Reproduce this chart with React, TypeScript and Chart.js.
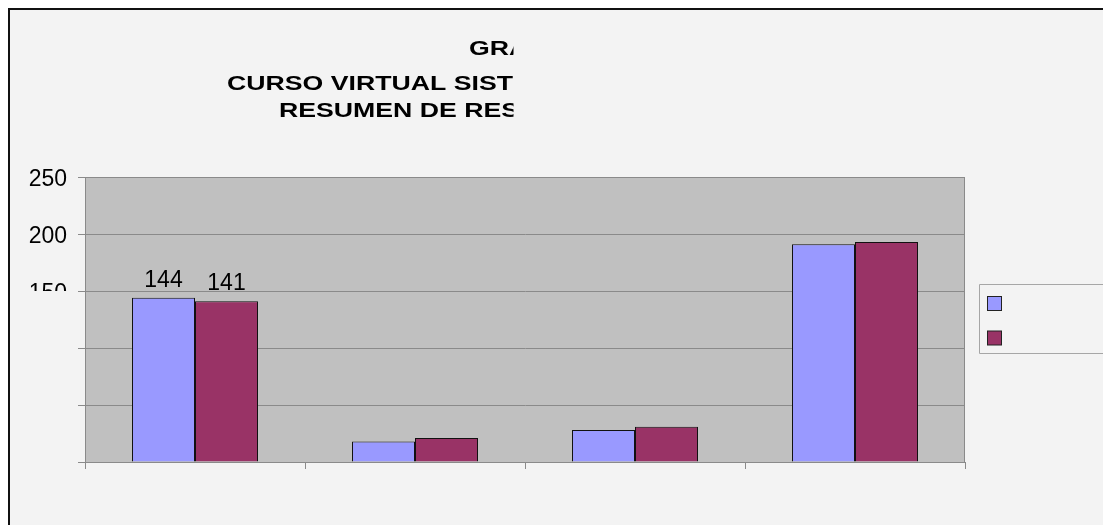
import React, { useEffect, useRef } from "react";
import { Chart, registerables } from "chart.js";

Chart.register(...registerables);

const categories = ["Categoría 1", "Categoría 2", "Categoría 3", "Categoría 4"];
const series1Label = "Serie 1";
const series2Label = "Serie 2";
const series1 = [144, 18, 28, 191];
const series2 = [141, 21, 31, 193];
const labeledIndexes = [0];
const yTickValues = [0, 50, 100, 150, 200, 250];
const titleLines = ["GRAFICO", "CURSO VIRTUAL SISTEMAS", "RESUMEN DE RESULTADOS"];

const FONT = "'Liberation Sans', Arial, sans-serif";
const BG = "#f3f3f3";
const PLOT_BG = "#c0c0c0";
const GRID = "#8a8a8a";
const BLUE = "#9999ff";
const MAROON = "#993366";

const backgroundPlugin = {
  id: "bg",
  beforeDraw(chart: any) {
    const { ctx, width, height, chartArea } = chart;
    ctx.save();
    ctx.fillStyle = BG;
    ctx.fillRect(0, 0, width, height);
    ctx.fillStyle = PLOT_BG;
    ctx.fillRect(chartArea.left, chartArea.top, chartArea.right - chartArea.left, chartArea.bottom - chartArea.top);
    ctx.restore();
  },
  beforeDatasetsDraw(chart: any) {
    const { ctx, chartArea } = chart;
    ctx.save();
    ctx.strokeStyle = GRID;
    ctx.lineWidth = 1;
    ctx.strokeRect(chartArea.left + 0.5, chartArea.top + 0.5, chartArea.right - chartArea.left - 1, chartArea.bottom - chartArea.top);
    ctx.restore();
  },
  afterDraw(chart: any) {
    const { ctx, width, height } = chart;
    ctx.save();
    ctx.strokeStyle = "#111";
    ctx.lineWidth = 2;
    ctx.beginPath();
    ctx.moveTo(1, height);
    ctx.lineTo(1, 1);
    ctx.lineTo(width + 10, 1);
    ctx.stroke();
    ctx.restore();
  },
};

const titlePlugin = {
  id: "clippedTitle",
  afterDraw(chart: any) {
    const { ctx, height } = chart;
    const starts = [461, 219, 271];
    const baselines = [47, 81.5, 109];
    ctx.save();
    ctx.beginPath();
    ctx.rect(0, 0, 505.5, height);
    ctx.clip();
    ctx.fillStyle = "#000";
    ctx.font = `bold 21px ${FONT}`;
    ctx.textAlign = "left";
    ctx.textBaseline = "alphabetic";
    titleLines.forEach((line, i) => {
      ctx.save();
      ctx.translate(starts[i], baselines[i]);
      ctx.scale(1.27, 1);
      ctx.fillText(line, 0, 0);
      ctx.restore();
    });
    ctx.restore();
  },
};

const partialTickPlugin = {
  id: "partialTick",
  afterDraw(chart: any) {
    const { ctx } = chart;
    const y = chart.scales.y;
    const v = yTickValues[3];
    const py = y.getPixelForValue(v);
    ctx.save();
    ctx.beginPath();
    ctx.rect(0, 0, y.right - 8, py);
    ctx.clip();
    ctx.fillStyle = "#000";
    ctx.font = `23px ${FONT}`;
    ctx.textAlign = "right";
    ctx.textBaseline = "middle";
    ctx.fillText(String(v), y.right - 7 - 11, py + 3);
    ctx.restore();
  },
};

const dataLabelPlugin = {
  id: "dataLabels",
  afterDatasetsDraw(chart: any) {
    const { ctx } = chart;
    ctx.save();
    ctx.fillStyle = "#000";
    ctx.font = `23px ${FONT}`;
    ctx.textAlign = "center";
    ctx.textBaseline = "alphabetic";
    chart.data.datasets.forEach((ds: any, i: number) => {
      const meta = chart.getDatasetMeta(i);
      labeledIndexes.forEach((idx) => {
        const el = meta.data[idx];
        if (el) ctx.fillText(String(ds.data[idx]), el.x, el.y - 11);
      });
    });
    ctx.restore();
  },
};

const legendPlugin = {
  id: "boxLegend",
  afterDraw(chart: any) {
    const { ctx, width } = chart;
    const x = 971.5;
    const y = 276.5;
    ctx.save();
    ctx.fillStyle = BG;
    ctx.fillRect(x, y, width - x + 20, 69);
    ctx.strokeStyle = "#a6a6a6";
    ctx.lineWidth = 1;
    ctx.beginPath();
    ctx.moveTo(width + 5, y);
    ctx.lineTo(x, y);
    ctx.lineTo(x, y + 69);
    ctx.lineTo(width + 5, y + 69);
    ctx.stroke();
    chart.data.datasets.forEach((ds: any, i: number) => {
      const sy = 288.5 + i * 34.5;
      ctx.fillStyle = ds.backgroundColor;
      ctx.fillRect(979.5, sy, 14, 14);
      ctx.strokeStyle = "#222";
      ctx.strokeRect(979.5, sy, 14, 14);
    });
    ctx.restore();
  },
};

export default function App() {
  const ref = useRef<HTMLCanvasElement | null>(null);
  useEffect(() => {
    document.documentElement.style.overflow = "hidden";
    document.body.style.overflow = "hidden";
    document.body.style.margin = "0";
    if (!ref.current) return;
    const chart = new Chart(ref.current, {
      type: "bar",
      data: {
        labels: categories,
        datasets: [
          {
            label: series1Label,
            data: series1,
            backgroundColor: BLUE,
            borderColor: "#111",
            borderWidth: 1,
            categoryPercentage: 0.5727,
            barPercentage: 1,
          },
          {
            label: series2Label,
            data: series2,
            backgroundColor: MAROON,
            borderColor: "#111",
            borderWidth: 1,
            categoryPercentage: 0.5727,
            barPercentage: 1,
          },
        ],
      },
      options: {
        responsive: false,
        animation: false,
        devicePixelRatio: 1,
        layout: { padding: { top: 169, right: 138, left: 0, bottom: 0 } },
        plugins: {
          legend: { display: false },
          title: { display: false },
          tooltip: { enabled: false },
        },
        scales: {
          x: {
            offset: true,
            grid: {
              display: true,
              drawOnChartArea: false,
              drawTicks: true,
              tickLength: 7,
              color: GRID,
            },
            border: { display: true, color: GRID },
            ticks: { callback: () => "" },
            afterFit: (scale: any) => {
              scale.height = 63;
            },
          },
          y: {
            min: 0,
            max: 250,
            afterBuildTicks: (scale: any) => {
              scale.ticks = yTickValues.map((v) => ({ value: v }));
            },
            grid: {
              color: GRID,
              drawTicks: true,
              tickLength: 7,
            },
            border: { display: true, color: GRID },
            ticks: {
              color: "#000",
              padding: 11,
              labelOffset: 3,
              font: { family: FONT, size: 23 },
              callback: (v: any) => (Number(v) >= 200 ? String(v) : ""),
            },
            afterFit: (scale: any) => {
              scale.width = 77;
            },
          },
        },
      },
      plugins: [backgroundPlugin, titlePlugin, partialTickPlugin, dataLabelPlugin, legendPlugin],
    } as any);
    return () => chart.destroy();
  }, []);
  return (
    <div style={{ width: 1103, height: 525, overflow: "hidden", background: "#fff" }}>
      <canvas
        ref={ref}
        width={1095}
        height={517}
        style={{ display: "block", marginLeft: 8, marginTop: 0, position: "relative", top: 8 }}
      />
    </div>
  );
}
